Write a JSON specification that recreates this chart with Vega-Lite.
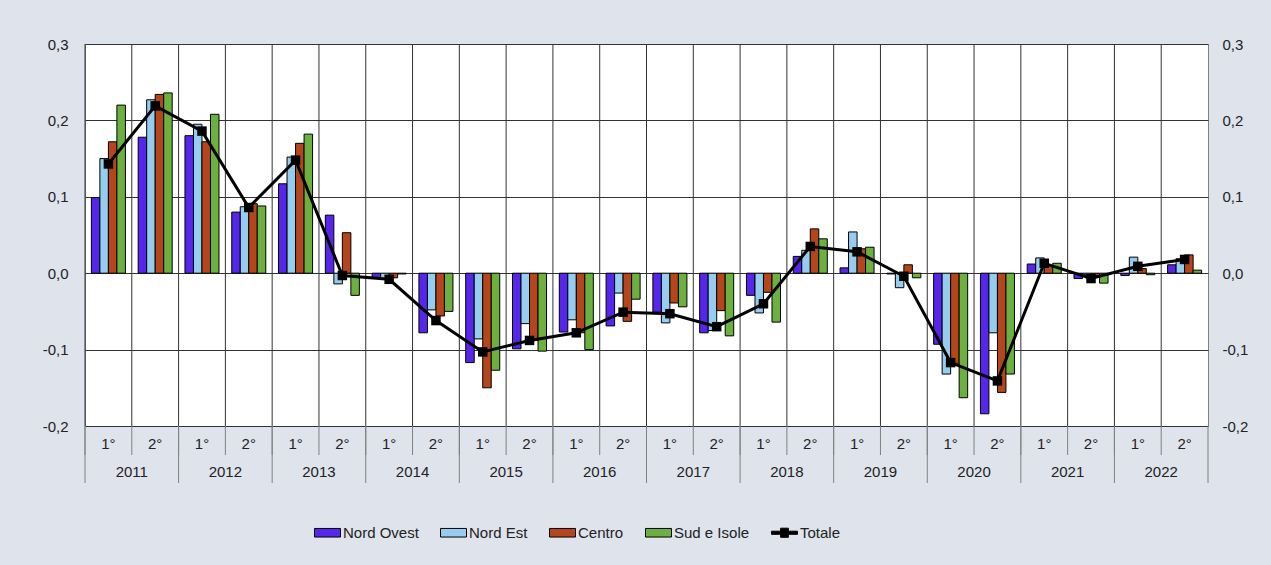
{
  "$schema": "https://vega.github.io/schema/vega-lite/v6.json",
  "width": 1123,
  "height": 382,
  "autosize": {"type": "none"},
  "padding": {"left": 85, "top": 44, "right": 63, "bottom": 139},
  "background": "#dfe3ec",
  "config": {
    "font": "Liberation Sans",
    "view": {"fill": "white", "stroke": "#808080", "strokeWidth": 1},
    "axis": {"labelFont": "Liberation Sans", "labelFontSize": 15, "labelColor": "#222222"},
    "legend": {"labelFont": "Liberation Sans", "labelFontSize": 15, "labelColor": "#222222"}
  },
  "datasets": {
    "bars": [
      {"p": "2011-1", "serie": "Nord Ovest", "v": 0.099}, {"p": "2011-1", "serie": "Nord Est", "v": 0.150}, {"p": "2011-1", "serie": "Centro", "v": 0.172}, {"p": "2011-1", "serie": "Sud e Isole", "v": 0.220},
      {"p": "2011-2", "serie": "Nord Ovest", "v": 0.178}, {"p": "2011-2", "serie": "Nord Est", "v": 0.227}, {"p": "2011-2", "serie": "Centro", "v": 0.234}, {"p": "2011-2", "serie": "Sud e Isole", "v": 0.236},
      {"p": "2012-1", "serie": "Nord Ovest", "v": 0.180}, {"p": "2012-1", "serie": "Nord Est", "v": 0.195}, {"p": "2012-1", "serie": "Centro", "v": 0.172}, {"p": "2012-1", "serie": "Sud e Isole", "v": 0.208},
      {"p": "2012-2", "serie": "Nord Ovest", "v": 0.080}, {"p": "2012-2", "serie": "Nord Est", "v": 0.087}, {"p": "2012-2", "serie": "Centro", "v": 0.091}, {"p": "2012-2", "serie": "Sud e Isole", "v": 0.088},
      {"p": "2013-1", "serie": "Nord Ovest", "v": 0.117}, {"p": "2013-1", "serie": "Nord Est", "v": 0.152}, {"p": "2013-1", "serie": "Centro", "v": 0.170}, {"p": "2013-1", "serie": "Sud e Isole", "v": 0.182},
      {"p": "2013-2", "serie": "Nord Ovest", "v": 0.076}, {"p": "2013-2", "serie": "Nord Est", "v": -0.014}, {"p": "2013-2", "serie": "Centro", "v": 0.053}, {"p": "2013-2", "serie": "Sud e Isole", "v": -0.029},
      {"p": "2014-1", "serie": "Nord Ovest", "v": -0.006}, {"p": "2014-1", "serie": "Nord Est", "v": -0.007}, {"p": "2014-1", "serie": "Centro", "v": -0.006}, {"p": "2014-1", "serie": "Sud e Isole", "v": -0.001},
      {"p": "2014-2", "serie": "Nord Ovest", "v": -0.078}, {"p": "2014-2", "serie": "Nord Est", "v": -0.048}, {"p": "2014-2", "serie": "Centro", "v": -0.056}, {"p": "2014-2", "serie": "Sud e Isole", "v": -0.050},
      {"p": "2015-1", "serie": "Nord Ovest", "v": -0.117}, {"p": "2015-1", "serie": "Nord Est", "v": -0.086}, {"p": "2015-1", "serie": "Centro", "v": -0.150}, {"p": "2015-1", "serie": "Sud e Isole", "v": -0.127},
      {"p": "2015-2", "serie": "Nord Ovest", "v": -0.099}, {"p": "2015-2", "serie": "Nord Est", "v": -0.066}, {"p": "2015-2", "serie": "Centro", "v": -0.088}, {"p": "2015-2", "serie": "Sud e Isole", "v": -0.102},
      {"p": "2016-1", "serie": "Nord Ovest", "v": -0.077}, {"p": "2016-1", "serie": "Nord Est", "v": -0.061}, {"p": "2016-1", "serie": "Centro", "v": -0.078}, {"p": "2016-1", "serie": "Sud e Isole", "v": -0.100},
      {"p": "2016-2", "serie": "Nord Ovest", "v": -0.069}, {"p": "2016-2", "serie": "Nord Est", "v": -0.026}, {"p": "2016-2", "serie": "Centro", "v": -0.063}, {"p": "2016-2", "serie": "Sud e Isole", "v": -0.034},
      {"p": "2017-1", "serie": "Nord Ovest", "v": -0.051}, {"p": "2017-1", "serie": "Nord Est", "v": -0.065}, {"p": "2017-1", "serie": "Centro", "v": -0.039}, {"p": "2017-1", "serie": "Sud e Isole", "v": -0.044},
      {"p": "2017-2", "serie": "Nord Ovest", "v": -0.078}, {"p": "2017-2", "serie": "Nord Est", "v": -0.075}, {"p": "2017-2", "serie": "Centro", "v": -0.049}, {"p": "2017-2", "serie": "Sud e Isole", "v": -0.082},
      {"p": "2018-1", "serie": "Nord Ovest", "v": -0.029}, {"p": "2018-1", "serie": "Nord Est", "v": -0.052}, {"p": "2018-1", "serie": "Centro", "v": -0.025}, {"p": "2018-1", "serie": "Sud e Isole", "v": -0.064},
      {"p": "2018-2", "serie": "Nord Ovest", "v": 0.022}, {"p": "2018-2", "serie": "Nord Est", "v": 0.030}, {"p": "2018-2", "serie": "Centro", "v": 0.058}, {"p": "2018-2", "serie": "Sud e Isole", "v": 0.045},
      {"p": "2019-1", "serie": "Nord Ovest", "v": 0.007}, {"p": "2019-1", "serie": "Nord Est", "v": 0.054}, {"p": "2019-1", "serie": "Centro", "v": 0.032}, {"p": "2019-1", "serie": "Sud e Isole", "v": 0.034},
      {"p": "2019-2", "serie": "Nord Ovest", "v": -0.001}, {"p": "2019-2", "serie": "Nord Est", "v": -0.019}, {"p": "2019-2", "serie": "Centro", "v": 0.011}, {"p": "2019-2", "serie": "Sud e Isole", "v": -0.006},
      {"p": "2020-1", "serie": "Nord Ovest", "v": -0.093}, {"p": "2020-1", "serie": "Nord Est", "v": -0.132}, {"p": "2020-1", "serie": "Centro", "v": -0.118}, {"p": "2020-1", "serie": "Sud e Isole", "v": -0.163},
      {"p": "2020-2", "serie": "Nord Ovest", "v": -0.184}, {"p": "2020-2", "serie": "Nord Est", "v": -0.078}, {"p": "2020-2", "serie": "Centro", "v": -0.156}, {"p": "2020-2", "serie": "Sud e Isole", "v": -0.132},
      {"p": "2021-1", "serie": "Nord Ovest", "v": 0.012}, {"p": "2021-1", "serie": "Nord Est", "v": 0.020}, {"p": "2021-1", "serie": "Centro", "v": 0.010}, {"p": "2021-1", "serie": "Sud e Isole", "v": 0.013},
      {"p": "2021-2", "serie": "Nord Ovest", "v": -0.007}, {"p": "2021-2", "serie": "Nord Est", "v": -0.002}, {"p": "2021-2", "serie": "Centro", "v": -0.003}, {"p": "2021-2", "serie": "Sud e Isole", "v": -0.013},
      {"p": "2022-1", "serie": "Nord Ovest", "v": -0.003}, {"p": "2022-1", "serie": "Nord Est", "v": 0.021}, {"p": "2022-1", "serie": "Centro", "v": 0.006}, {"p": "2022-1", "serie": "Sud e Isole", "v": -0.002},
      {"p": "2022-2", "serie": "Nord Ovest", "v": 0.011}, {"p": "2022-2", "serie": "Nord Est", "v": 0.019}, {"p": "2022-2", "serie": "Centro", "v": 0.024}, {"p": "2022-2", "serie": "Sud e Isole", "v": 0.004}
    ],
    "tot": [
      {"p": "2011-1", "anno": "2011", "v": 0.143}, {"p": "2011-2", "anno": "2011", "v": 0.219},
      {"p": "2012-1", "anno": "2012", "v": 0.186}, {"p": "2012-2", "anno": "2012", "v": 0.086},
      {"p": "2013-1", "anno": "2013", "v": 0.148}, {"p": "2013-2", "anno": "2013", "v": -0.003},
      {"p": "2014-1", "anno": "2014", "v": -0.008}, {"p": "2014-2", "anno": "2014", "v": -0.062},
      {"p": "2015-1", "anno": "2015", "v": -0.103}, {"p": "2015-2", "anno": "2015", "v": -0.088},
      {"p": "2016-1", "anno": "2016", "v": -0.078}, {"p": "2016-2", "anno": "2016", "v": -0.051},
      {"p": "2017-1", "anno": "2017", "v": -0.053}, {"p": "2017-2", "anno": "2017", "v": -0.070},
      {"p": "2018-1", "anno": "2018", "v": -0.040}, {"p": "2018-2", "anno": "2018", "v": 0.035},
      {"p": "2019-1", "anno": "2019", "v": 0.028}, {"p": "2019-2", "anno": "2019", "v": -0.004},
      {"p": "2020-1", "anno": "2020", "v": -0.117}, {"p": "2020-2", "anno": "2020", "v": -0.141},
      {"p": "2021-1", "anno": "2021", "v": 0.013}, {"p": "2021-2", "anno": "2021", "v": -0.007},
      {"p": "2022-1", "anno": "2022", "v": 0.009}, {"p": "2022-2", "anno": "2022", "v": 0.018}
    ]
  },
  "layer": [
    {
      "data": {"name": "tot"},
      "mark": {"type": "rule", "color": "#333333", "strokeWidth": 1},
      "encoding": {
        "x": {"field": "p", "type": "ordinal", "sort": "ascending", "bandPosition": 0,
              "scale": {"paddingInner": 0, "paddingOuter": 0},
              "axis": {"orient": "bottom", "title": null, "domain": false, "ticks": false, "grid": false, "labelPadding": 10, "labelAngle": 0, "labelExpr": "indexof(datum.value, '-1') > 0 ? '1°' : '2°'"}},
        "y": {"datum": 0.3, "type": "quantitative", "axis": null},
        "y2": {"datum": -0.2}
      }
    },
    {
      "data": {"name": "tot"},
      "mark": {"type": "rule", "color": "#808080", "strokeWidth": 1},
      "encoding": {
        "x": {"field": "p", "type": "ordinal", "sort": "ascending", "bandPosition": 0,
              "axis": {"orient": "bottom", "title": null, "domain": false, "ticks": false, "grid": false, "labelPadding": 10, "labelAngle": 0, "labelExpr": "indexof(datum.value, '-1') > 0 ? '1°' : '2°'"}},
        "y": {"datum": -0.2, "type": "quantitative", "axis": null},
        "y2": {"datum": -0.238}
      }
    },
    {
      "data": {"name": "tot"},
      "transform": [{"filter": "indexof(datum.p, '-1') > 0"}],
      "mark": {"type": "rule", "color": "#808080", "strokeWidth": 1},
      "encoding": {
        "x": {"field": "p", "type": "ordinal", "sort": "ascending", "bandPosition": 0,
              "axis": {"orient": "bottom", "title": null, "domain": false, "ticks": false, "grid": false, "labelPadding": 10, "labelAngle": 0, "labelExpr": "indexof(datum.value, '-1') > 0 ? '1°' : '2°'"}},
        "y": {"datum": -0.2, "type": "quantitative", "axis": null},
        "y2": {"datum": -0.2746}
      }
    },
    {
      "data": {"name": "tot"},
      "transform": [{"filter": "datum.p == '2022-2'"}],
      "mark": {"type": "rule", "color": "#808080", "strokeWidth": 1},
      "encoding": {
        "x": {"field": "p", "type": "ordinal", "sort": "ascending", "bandPosition": 1,
              "axis": {"orient": "bottom", "title": null, "domain": false, "ticks": false, "grid": false, "labelPadding": 10, "labelAngle": 0, "labelExpr": "indexof(datum.value, '-1') > 0 ? '1°' : '2°'"}},
        "y": {"datum": -0.2, "type": "quantitative", "axis": null},
        "y2": {"datum": -0.2746}
      }
    },
    {
      "data": {"name": "bars"},
      "mark": {"type": "bar", "stroke": "black", "strokeWidth": 1, "opacity": 1},
      "encoding": {
        "x": {"field": "p", "type": "ordinal", "sort": "ascending",
              "axis": {"orient": "bottom", "title": null, "domain": false, "ticks": false, "grid": false, "labelPadding": 10, "labelAngle": 0, "labelExpr": "indexof(datum.value, '-1') > 0 ? '1°' : '2°'"}},
        "xOffset": {
          "field": "serie", "type": "nominal",
          "sort": ["Nord Ovest", "Nord Est", "Centro", "Sud e Isole"],
          "scale": {"paddingInner": 0, "paddingOuter": 0.75}
        },
        "y": {
          "field": "v", "type": "quantitative", "stack": null,
          "scale": {"domain": [-0.2, 0.3], "nice": false, "zero": false},
          "axis": {
            "orient": "left", "title": null, "domain": false, "ticks": false,
            "values": [-0.2, -0.1, 0, 0.1, 0.2, 0.3],
            "grid": true, "gridColor": "#333333", "gridWidth": 1,
            "labelPadding": 17,
            "labelExpr": "(datum.value < 0 ? '-' : '') + replace(format(abs(datum.value), '.1f'), '.', ',')"
          }
        },
        "color": {
          "field": "serie", "type": "nominal",
          "scale": {
            "domain": ["Nord Ovest", "Nord Est", "Centro", "Sud e Isole", "Totale"],
            "range": ["#5726eb", "#94cdef", "#b5461b", "#6cb140", "#000000"]
          },
          "legend": {
            "orient": "none", "legendX": 229, "legendY": 475, "direction": "horizontal",
            "title": null, "columnPadding": 19, "labelOffset": 2,
            "symbolSize": 676, "symbolStrokeWidth": 1, "symbolStrokeColor": "black",
            "symbolType": "M-1,-0.33h2v0.66h-2Z", "symbolOpacity": 1,
            "encode": {
              "symbols": {
                "update": {
                  "shape": {"signal": "datum.value === 'Totale' ? 'M-1,-0.12h2v0.24h-2Z M-0.3,-0.35h0.6v0.7h-0.6Z' : 'M-1,-0.33h2v0.66h-2Z'"}
                }
              }
            }
          }
        }
      }
    },
    {
      "data": {"name": "tot"},
      "mark": {"type": "line", "color": "black", "strokeWidth": 3},
      "encoding": {
        "x": {"field": "p", "type": "ordinal", "sort": "ascending",
              "axis": {"orient": "bottom", "title": null, "domain": false, "ticks": false, "grid": false, "labelPadding": 10, "labelAngle": 0, "labelExpr": "indexof(datum.value, '-1') > 0 ? '1°' : '2°'"}},
        "y": {
          "field": "v", "type": "quantitative",
          "axis": {
            "orient": "right", "title": null, "domain": false, "ticks": false, "grid": false,
            "values": [-0.2, -0.1, 0, 0.1, 0.2, 0.3],
            "labelPadding": 14,
            "labelExpr": "(datum.value < 0 ? '-' : '') + replace(format(abs(datum.value), '.1f'), '.', ',')"
          }
        }
      }
    },
    {
      "data": {"name": "tot"},
      "mark": {"type": "point", "shape": "square", "filled": true, "color": "black", "size": 90, "opacity": 1},
      "encoding": {
        "x": {"field": "p", "type": "ordinal", "sort": "ascending",
              "axis": {"orient": "bottom", "title": null, "domain": false, "ticks": false, "grid": false, "labelPadding": 10, "labelAngle": 0, "labelExpr": "indexof(datum.value, '-1') > 0 ? '1°' : '2°'"}},
        "y": {"field": "v", "type": "quantitative", "axis": null}
      }
    },
    {
      "data": {"name": "tot"},
      "transform": [{"filter": "indexof(datum.p, '-2') > 0"}],
      "mark": {"type": "text", "fontSize": 15, "font": "Liberation Sans", "color": "#222222", "align": "center", "baseline": "middle"},
      "encoding": {
        "x": {"field": "p", "type": "ordinal", "sort": "ascending", "bandPosition": 0,
              "axis": {"orient": "bottom", "title": null, "domain": false, "ticks": false, "grid": false, "labelPadding": 10, "labelAngle": 0, "labelExpr": "indexof(datum.value, '-1') > 0 ? '1°' : '2°'"}},
        "y": {"datum": -0.2605, "type": "quantitative", "axis": null},
        "text": {"field": "anno"}
      }
    }
  ],
  "resolve": {"axis": {"y": "independent"}}
}
